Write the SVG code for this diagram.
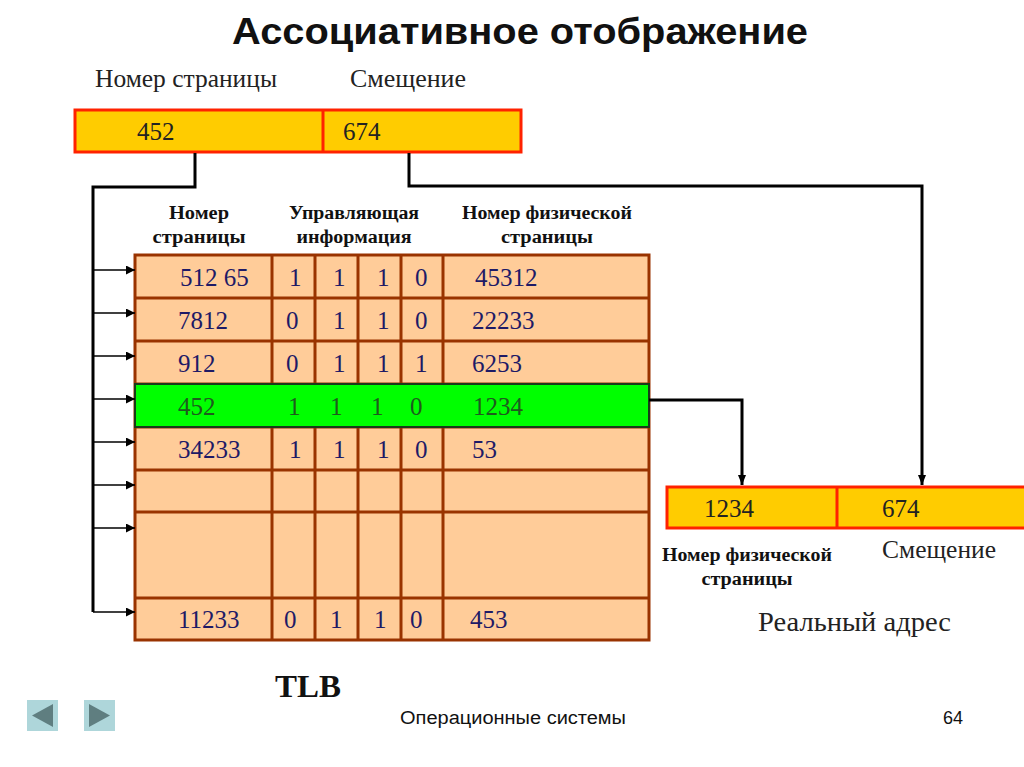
<svg xmlns="http://www.w3.org/2000/svg" width="1024" height="767" viewBox="0 0 1024 767">
<defs>
<style>
.serif{font-family:"Liberation Serif","Times New Roman",serif;}
.sans{font-family:"Liberation Sans",Arial,sans-serif;}
.addr{fill:#FFCC00;stroke:#FF2200;stroke-width:3;}
.cell{fill:#FFCC99;stroke:#993300;stroke-width:3;}
.hdr{font-family:"Liberation Serif","Times New Roman",serif;font-weight:bold;font-size:18px;fill:#111;text-anchor:middle;}
.num{font-family:"Liberation Serif","Times New Roman",serif;font-size:25px;fill:#1E1A66;}
.gnum{font-family:"Liberation Serif","Times New Roman",serif;font-size:25px;fill:#1E5A1E;}
.dark{font-family:"Liberation Serif","Times New Roman",serif;font-size:25px;fill:#222;}
.conn{fill:none;stroke:#000;stroke-width:3;}
.thin{fill:none;stroke:#000;stroke-width:1.5;}
</style>
<marker id="ah" viewBox="0 0 10 10" refX="10" refY="5" markerWidth="10" markerHeight="10" markerUnits="userSpaceOnUse" orient="auto">
<path d="M0,1 L10,5 L0,9 z" fill="#000"/>
</marker>
<marker id="ab" viewBox="0 0 10 10" refX="10" refY="5" markerWidth="6" markerHeight="6" orient="auto">
<path d="M0,0 L10,5 L0,10 z" fill="#000"/>
</marker>
</defs>
<rect width="1024" height="767" fill="#fff"/>

<text x="232" y="44" class="sans" font-size="37" font-weight="bold" fill="#111" textLength="576" lengthAdjust="spacingAndGlyphs">Ассоциативное отображение</text>
<text x="95" y="87" class="dark" textLength="182" lengthAdjust="spacingAndGlyphs">Номер страницы</text>
<text x="350" y="87" class="dark" textLength="116" lengthAdjust="spacingAndGlyphs">Смещение</text>

<g id="virtual-address">
<rect x="75" y="110" width="446" height="42" class="addr"/>
<line x1="323" y1="110" x2="323" y2="152" stroke="#FF2200" stroke-width="3"/>
<text x="137" y="140" class="dark">452</text>
<text x="343" y="140" class="dark">674</text>
</g>

<g id="tlb-headers">
<text x="199" y="219" class="hdr" textLength="60" lengthAdjust="spacingAndGlyphs">Номер</text>
<text x="199" y="243" class="hdr" textLength="93" lengthAdjust="spacingAndGlyphs">страницы</text>
<text x="354" y="219" class="hdr" textLength="130" lengthAdjust="spacingAndGlyphs">Управляющая</text>
<text x="354" y="243" class="hdr" textLength="115" lengthAdjust="spacingAndGlyphs">информация</text>
<text x="547" y="219" class="hdr" textLength="170" lengthAdjust="spacingAndGlyphs">Номер физической</text>
<text x="547" y="243" class="hdr" textLength="92" lengthAdjust="spacingAndGlyphs">страницы</text>
</g>

<g id="tlb">
<rect x="135" y="255" width="514" height="385" class="cell"/>
<g stroke="#993300" stroke-width="3">
<line x1="135" y1="298" x2="649" y2="298"/>
<line x1="135" y1="341" x2="649" y2="341"/>
<line x1="135" y1="384" x2="649" y2="384"/>
<line x1="135" y1="427" x2="649" y2="427"/>
<line x1="135" y1="470" x2="649" y2="470"/>
<line x1="135" y1="512" x2="649" y2="512"/>
<line x1="135" y1="598" x2="649" y2="598"/>
<line x1="272" y1="255" x2="272" y2="640"/>
<line x1="315" y1="255" x2="315" y2="640"/>
<line x1="358" y1="255" x2="358" y2="640"/>
<line x1="401" y1="255" x2="401" y2="640"/>
<line x1="443" y1="255" x2="443" y2="640"/>
</g>
<rect x="135" y="384" width="514" height="43" fill="#00FF00" stroke="#1A3A1A" stroke-width="2"/>

<g class="num">
<text x="180" y="286">512 65</text><text x="289" y="286">1</text><text x="333" y="286">1</text><text x="377" y="286">1</text><text x="415" y="286">0</text><text x="475" y="286">45312</text>
<text x="178" y="329">7812</text><text x="286" y="329">0</text><text x="333" y="329">1</text><text x="377" y="329">1</text><text x="415" y="329">0</text><text x="472" y="329">22233</text>
<text x="178" y="372">912</text><text x="286" y="372">0</text><text x="333" y="372">1</text><text x="377" y="372">1</text><text x="415" y="372">1</text><text x="472" y="372">6253</text>
<text x="178" y="458">34233</text><text x="289" y="458">1</text><text x="333" y="458">1</text><text x="377" y="458">1</text><text x="415" y="458">0</text><text x="472" y="458">53</text>
<text x="178" y="628">11233</text><text x="284" y="628">0</text><text x="330" y="628">1</text><text x="374" y="628">1</text><text x="410" y="628">0</text><text x="470" y="628">453</text>
</g>
<g class="gnum">
<text x="178" y="415">452</text><text x="288" y="415">1</text><text x="330" y="415">1</text><text x="371" y="415">1</text><text x="410" y="415">0</text><text x="473" y="415">1234</text>
</g>
</g>

<g id="real-address">
<rect x="667" y="487" width="370" height="41" class="addr"/>
<line x1="837" y1="487" x2="837" y2="528" stroke="#FF2200" stroke-width="3"/>
<text x="704" y="517" class="dark">1234</text>
<text x="882" y="517" class="dark">674</text>
</g>
<text x="747" y="561" class="hdr" textLength="170" lengthAdjust="spacingAndGlyphs">Номер физической</text>
<text x="747" y="585" class="hdr" textLength="91" lengthAdjust="spacingAndGlyphs">страницы</text>
<text x="882" y="558" class="dark" textLength="114" lengthAdjust="spacingAndGlyphs">Смещение</text>
<text x="758" y="631" class="serif" font-size="28" fill="#222" textLength="193" lengthAdjust="spacingAndGlyphs">Реальный адрес</text>
<text x="275" y="697" class="serif" font-size="32" font-weight="bold" fill="#111" textLength="66" lengthAdjust="spacingAndGlyphs">TLB</text>

<g id="connectors">
<path d="M195,153 V187 H93 V612" class="conn"/>
<line x1="93" y1="270" x2="135" y2="270" class="thin" marker-end="url(#ab)"/>
<line x1="93" y1="313" x2="135" y2="313" class="thin" marker-end="url(#ab)"/>
<line x1="93" y1="356" x2="135" y2="356" class="thin" marker-end="url(#ab)"/>
<line x1="93" y1="399" x2="135" y2="399" class="thin" marker-end="url(#ab)"/>
<line x1="93" y1="442" x2="135" y2="442" class="thin" marker-end="url(#ab)"/>
<line x1="93" y1="485" x2="135" y2="485" class="thin" marker-end="url(#ab)"/>
<line x1="93" y1="528" x2="135" y2="528" class="thin" marker-end="url(#ab)"/>
<line x1="93" y1="612" x2="135" y2="612" class="thin" marker-end="url(#ab)"/>
<path d="M409,153 V186 H922 V485" class="conn" marker-end="url(#ah)"/>
<path d="M649,400 H742 V485" class="conn" marker-end="url(#ah)"/>
</g>

<g id="nav">
<rect x="27" y="700" width="31" height="31" fill="#AED6DA"/>
<path d="M32,715.5 L53,704 L53,727 z" fill="#5F7E80"/>
<rect x="84" y="700" width="31" height="31" fill="#AED6DA"/>
<path d="M110,715.5 L89,704 L89,727 z" fill="#5F7E80"/>
</g>
<text x="400" y="724" class="sans" font-size="18" fill="#111" textLength="226" lengthAdjust="spacingAndGlyphs">Операционные системы</text>
<text x="943" y="724" class="sans" font-size="18" fill="#111">64</text>
</svg>
